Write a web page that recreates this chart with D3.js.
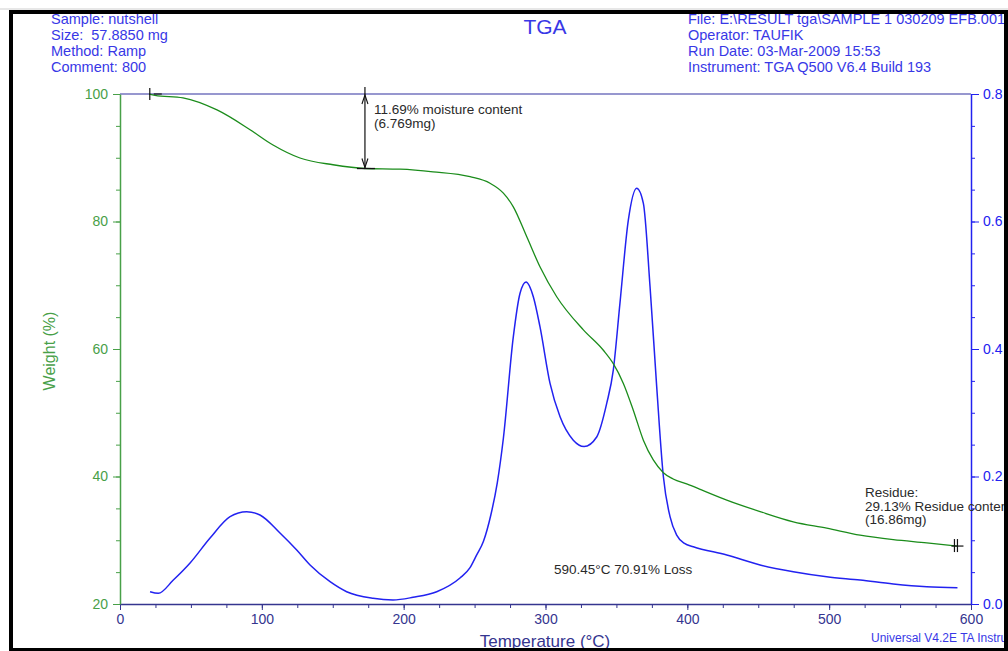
<!DOCTYPE html>
<html>
<head>
<meta charset="utf-8">
<script src="https://d3js.org/d3.v7.min.js"></script>
<style>
  body { margin: 0; background: #fff; }
  svg text { font-family: Arial, "Liberation Sans", sans-serif; }
</style>
</head>
<body>
<script>
// ---- data ----
var weightT   = [20.5, 24.7, 44.4, 68.4, 91.7, 107.9, 126.9, 150.2, 172.7, 197.4, 220.7, 246.8, 260.9, 270.3, 277.3, 286.8, 296.1, 307.9, 326.7, 340.8, 347.8, 354.9, 361.9, 369.0, 376.0, 383.1, 390.0, 400.0, 410.0, 427.8, 451.3, 474.7, 498.3, 521.8, 545.2, 568.8, 590.45];
var weightPct = [100.0, 99.8, 99.4, 97.5, 94.4, 92.0, 89.96, 88.9, 88.31, 88.2, 87.8, 87.03, 86.0, 84.45, 82.3, 77.6, 72.9, 68.2, 63.0, 59.8, 57.7, 54.6, 50.4, 45.7, 42.6, 40.6, 39.6, 38.8, 37.9, 36.3, 34.5, 32.9, 31.9, 30.8, 30.1, 29.6, 29.09];

var derivT   = [21.2, 27.0, 37.6, 49.4, 63.5, 77.6, 89.3, 98.7, 112.8, 124.6, 134.0, 148.1, 159.8, 178.4, 192.5, 206.6, 223.3, 239.7, 246.8, 251.5, 256.2, 261.5, 266.0, 270.3, 277.3, 282.0, 286.3, 291.4, 296.1, 303.2, 310.2, 319.6, 327.2, 336.1, 343.2, 347.8, 352.5, 358.4, 364.3, 369.0, 373.7, 378.4, 383.1, 387.8, 392.5, 398.0, 404.2, 427.8, 451.3, 474.7, 498.3, 521.8, 545.2, 568.8, 590.45];
var derivVal = [0.0193, 0.0168, 0.0376, 0.0643, 0.1035, 0.137, 0.1448, 0.1396, 0.1114, 0.0847, 0.0612, 0.035, 0.0193, 0.0089, 0.0063, 0.0105, 0.0193, 0.0408, 0.057, 0.077, 0.098, 0.14, 0.19, 0.26, 0.419, 0.487, 0.505, 0.482, 0.435, 0.346, 0.294, 0.257, 0.247, 0.262, 0.315, 0.367, 0.472, 0.602, 0.652, 0.6285, 0.498, 0.341, 0.20, 0.137, 0.108, 0.095, 0.0899, 0.0769, 0.0612, 0.0507, 0.0428, 0.0376, 0.0314, 0.0271, 0.0256];

var headerLeft  = ["Sample: nutshell", "Size:  57.8850 mg", "Method: Ramp", "Comment: 800"];
var headerRight = ["File: E:\\RESULT tga\\SAMPLE 1 030209 EFB.001", "Operator: TAUFIK", "Run Date: 03-Mar-2009 15:53", "Instrument: TGA Q500 V6.4 Build 193"];

var moistureT = 172.7, moistureW = 88.31;
var startT = 21;
var residueT = 590.45, residueW = 29.09;

// ---- layout ----
var W = 1008, H = 651;
var plotL = 120, plotR = 971, plotT = 94, plotB = 604;

var green = "#1b8c1b", greenAxis = "#48a048", blue = "#2222f0", navy = "#35358f", headBlue = "#3838e6";
var fontFam = "Arial, 'Liberation Sans', sans-serif";

var svg = d3.select("body").append("svg").attr("width", W).attr("height", H);

var x = d3.scaleLinear().domain([0, 600]).range([plotL, plotR]);
var yW = d3.scaleLinear().domain([20, 100]).range([plotB, plotT]);
var yD = d3.scaleLinear().domain([0, 0.8]).range([plotB, plotT]);

svg.append("line").attr("x1", 0).attr("x2", W).attr("y1", 9).attr("y2", 9).attr("stroke", "#cfcfcf");

// header
svg.append("g").selectAll("text").data(headerLeft).join("text")
  .attr("x", 51).attr("y", function(d, i) { return 24 + i * 16; })
  .attr("font-size", 14.5).attr("fill", headBlue).style("white-space", "pre").text(function(d) { return d; });
svg.append("g").selectAll("text").data(headerRight).join("text")
  .attr("x", 688).attr("y", function(d, i) { return 24 + i * 16; })
  .attr("font-size", 14.5).attr("fill", headBlue).text(function(d) { return d; });
svg.append("text").attr("x", 545).attr("y", 34).attr("text-anchor", "middle")
  .attr("font-size", 21).attr("fill", headBlue).text("TGA");

// top border line
svg.append("line").attr("x1", plotL).attr("x2", plotR).attr("y1", plotT).attr("y2", plotT)
  .attr("stroke", "#7474bf").attr("stroke-width", 1.5);

// x axis: minor + major
svg.append("g").attr("transform", "translate(0," + plotB + ")")
  .call(d3.axisBottom(x).tickValues(d3.range(0, 601, 25)).tickSize(4).tickSizeOuter(0).tickFormat(""))
  .call(function(g) { g.select(".domain").remove(); g.selectAll("line").attr("stroke", navy); });
var gx = svg.append("g").attr("transform", "translate(0," + plotB + ")")
  .call(d3.axisBottom(x).tickValues(d3.range(0, 601, 100)).tickSize(6).tickSizeOuter(0).tickPadding(4));
gx.select(".domain").attr("stroke", navy).attr("stroke-width", 1.5);
gx.selectAll("line").attr("stroke", navy);
gx.selectAll("text").attr("font-size", 14).attr("fill", navy).style("font-family", fontFam);

// left axis
svg.append("g").attr("transform", "translate(" + plotL + ",0)")
  .call(d3.axisLeft(yW).tickValues(d3.range(20, 101, 5)).tickSize(4).tickSizeOuter(0).tickFormat(""))
  .call(function(g) { g.select(".domain").remove(); g.selectAll("line").attr("stroke", greenAxis); });
var gl = svg.append("g").attr("transform", "translate(" + plotL + ",0)")
  .call(d3.axisLeft(yW).tickValues(d3.range(20, 101, 20)).tickSize(7).tickSizeOuter(0).tickPadding(5));
gl.select(".domain").attr("stroke", greenAxis).attr("stroke-width", 1.5);
gl.selectAll("line").attr("stroke", greenAxis);
gl.selectAll("text").attr("font-size", 14).attr("fill", greenAxis).style("font-family", fontFam);

// right axis
svg.append("g").attr("transform", "translate(" + plotR + ",0)")
  .call(d3.axisRight(yD).tickValues(d3.range(0, 17).map(function(i) { return i * 0.05; })).tickSize(4).tickSizeOuter(0).tickFormat(""))
  .call(function(g) { g.select(".domain").remove(); g.selectAll("line").attr("stroke", blue); });
var gr = svg.append("g").attr("transform", "translate(" + plotR + ",0)")
  .call(d3.axisRight(yD).tickValues([0, 0.2, 0.4, 0.6, 0.8]).tickFormat(d3.format(".1f")).tickSize(8).tickSizeOuter(0).tickPadding(4));
gr.select(".domain").attr("stroke", blue).attr("stroke-width", 1.5);
gr.selectAll("line").attr("stroke", blue);
gr.selectAll("text").attr("font-size", 14).attr("fill", blue).style("font-family", fontFam);

// axis titles
svg.append("text").attr("transform", "translate(55,351) rotate(-90)").attr("text-anchor", "middle")
  .attr("font-size", 16).attr("fill", greenAxis).text("Weight (%)");
svg.append("text").attr("x", 545).attr("y", 647).attr("text-anchor", "middle")
  .attr("font-size", 17).attr("fill", navy).text("Temperature (°C)");
svg.append("text").attr("x", 871).attr("y", 642)
  .attr("font-size", 12).attr("fill", headBlue).text("Universal V4.2E TA Instruments");

// curves
var wData = weightT.map(function(t, i) { return [t, weightPct[i]]; });
var dData = derivT.map(function(t, i) { return [t, derivVal[i]]; });

svg.append("path").datum(dData)
  .attr("d", d3.line().x(function(d) { return x(d[0]); }).y(function(d) { return yD(d[1]); }).curve(d3.curveMonotoneX))
  .attr("fill", "none").attr("stroke", blue).attr("stroke-width", 1.5);
svg.append("path").datum(wData)
  .attr("d", d3.line().x(function(d) { return x(d[0]); }).y(function(d) { return yW(d[1]); }).curve(d3.curveMonotoneX))
  .attr("fill", "none").attr("stroke", green).attr("stroke-width", 1.3);

// annotations
var ink = "#111", txt = "#2a2a2a";
// start marker
svg.append("line").attr("x1", x(startT)).attr("x2", x(startT)).attr("y1", yW(100) - 6).attr("y2", yW(100) + 6)
  .attr("stroke", ink).attr("stroke-width", 1.2);
svg.append("line").attr("x1", x(startT) + 4).attr("x2", x(startT) + 12).attr("y1", yW(100)).attr("y2", yW(100))
  .attr("stroke", ink).attr("stroke-width", 1.2);

// moisture arrow
var mx = x(moistureT), my0 = yW(100), my1 = yW(moistureW);
svg.append("line").attr("x1", mx).attr("x2", mx).attr("y1", my0 - 7).attr("y2", my1).attr("stroke", ink).attr("stroke-width", 1.2);
svg.append("path").attr("d", "M" + (mx - 3) + "," + (my0 + 10) + "L" + mx + "," + (my0 + 1) + "L" + (mx + 3) + "," + (my0 + 10))
  .attr("fill", "none").attr("stroke", ink).attr("stroke-width", 1.1);
svg.append("path").attr("d", "M" + (mx - 3) + "," + (my1 - 10) + "L" + mx + "," + (my1 - 1) + "L" + (mx + 3) + "," + (my1 - 10))
  .attr("fill", "none").attr("stroke", ink).attr("stroke-width", 1.1);
svg.append("line").attr("x1", mx - 8).attr("x2", mx + 10).attr("y1", my1).attr("y2", my1).attr("stroke", ink).attr("stroke-width", 1.3);
svg.append("text").attr("x", mx + 9).attr("y", 114).attr("font-size", 13.5).attr("fill", txt).text("11.69% moisture content");
svg.append("text").attr("x", mx + 9).attr("y", 128).attr("font-size", 13.5).attr("fill", txt).text("(6.769mg)");

// residue marker
var rx = x(residueT), ry = yW(residueW);
svg.append("line").attr("x1", rx - 6).attr("x2", rx + 6).attr("y1", ry).attr("y2", ry).attr("stroke", ink).attr("stroke-width", 1.2);
[-3, 0].forEach(function(o) {
  svg.append("line").attr("x1", rx + o).attr("x2", rx + o).attr("y1", ry - 7).attr("y2", ry + 6).attr("stroke", ink).attr("stroke-width", 1.2);
});
svg.append("g").selectAll("text").data(["Residue:", "29.13% Residue content", "(16.86mg)"]).join("text")
  .attr("x", 865).attr("y", function(d, i) { return 497 + i * 13.5; })
  .attr("font-size", 13.5).attr("fill", txt).text(function(d) { return d; });

svg.append("text").attr("x", 554).attr("y", 574).attr("font-size", 13.5).attr("fill", txt).text("590.45°C 70.91% Loss");

// outer frame
svg.append("rect").attr("x", 11).attr("y", 12).attr("width", 995).attr("height", 638)
  .attr("fill", "none").attr("stroke", "#000").attr("stroke-width", 4);
</script>
</body>
</html>
